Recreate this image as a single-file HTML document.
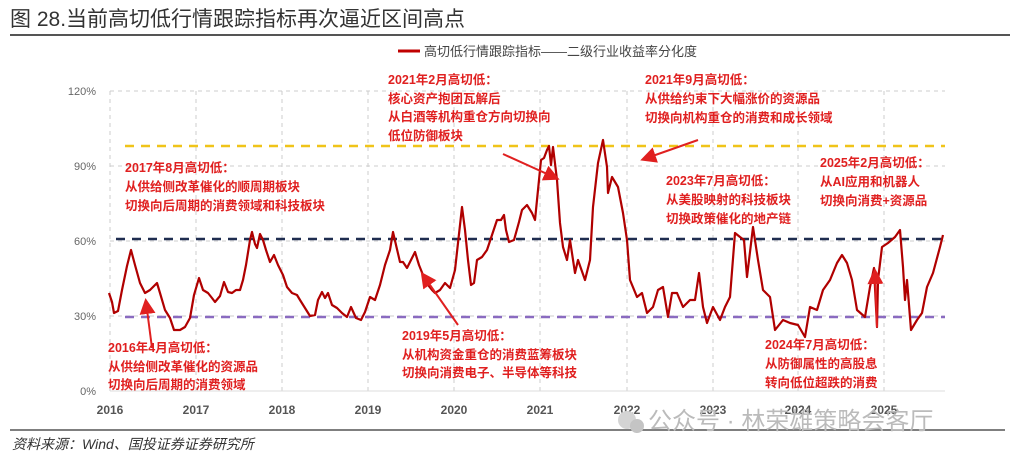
<!DOCTYPE html>
<html><head><meta charset="utf-8"><style>
body{margin:0;background:#fff;width:1024px;height:464px;overflow:hidden;font-family:"Liberation Sans","Noto Sans CJK SC",sans-serif}
</style></head><body>
<svg width="1024" height="464" viewBox="0 0 1024 464" xmlns="http://www.w3.org/2000/svg" font-family="Liberation Sans, Noto Sans CJK SC, sans-serif">
<defs><marker id="ah" markerWidth="8" markerHeight="8" refX="6" refY="4" orient="auto"><path d="M0,0 L8,4 L0,8 z" fill="#e02020"/></marker></defs>
<text x="10" y="26" font-size="21" fill="#333">图 28.当前高切低行情跟踪指标再次逼近区间高点</text>
<line x1="10" y1="35" x2="1010" y2="35" stroke="#555" stroke-width="2"/>
<line x1="398" y1="51" x2="420" y2="51" stroke="#c00000" stroke-width="3"/>
<text x="424" y="56" font-size="13" fill="#444">高切低行情跟踪指标——二级行业收益率分化度</text>
<g stroke="#ccc" stroke-dasharray="4,4" stroke-width="1">
<line x1="110" y1="91" x2="945" y2="91"/><line x1="110" y1="166" x2="945" y2="166"/><line x1="110" y1="241" x2="945" y2="241"/><line x1="110" y1="316" x2="945" y2="316"/>
<line x1="110" y1="91" x2="110" y2="391"/><line x1="196" y1="91" x2="196" y2="391"/><line x1="282" y1="91" x2="282" y2="391"/><line x1="368" y1="91" x2="368" y2="391"/><line x1="454" y1="91" x2="454" y2="391"/><line x1="540" y1="91" x2="540" y2="391"/><line x1="627" y1="91" x2="627" y2="391"/><line x1="713" y1="91" x2="713" y2="391"/><line x1="798" y1="91" x2="798" y2="391"/><line x1="884" y1="91" x2="884" y2="391"/>
</g>
<line x1="110" y1="391" x2="945" y2="391" stroke="#ddd"/>
<g font-size="11" fill="#666" text-anchor="end">
<text x="96" y="95">120%</text><text x="96" y="170">90%</text><text x="96" y="245">60%</text><text x="96" y="320">30%</text><text x="96" y="395">0%</text></g>
<g font-size="12" fill="#555" font-weight="bold" text-anchor="middle">
<text x="110" y="414">2016</text><text x="196" y="414">2017</text><text x="282" y="414">2018</text><text x="368" y="414">2019</text><text x="454" y="414">2020</text><text x="540" y="414">2021</text><text x="627" y="414">2022</text><text x="713" y="414">2023</text><text x="798" y="414">2024</text><text x="884" y="414">2025</text></g>
<line x1="125" y1="146" x2="945" y2="146" stroke="#f0c419" stroke-width="2.5" stroke-dasharray="9,7"/>
<line x1="116" y1="239" x2="945" y2="239" stroke="#1f2d50" stroke-width="2.5" stroke-dasharray="9,7"/>
<line x1="125" y1="317" x2="945" y2="317" stroke="#8a6bc0" stroke-width="2.5" stroke-dasharray="9,7"/>
<polyline fill="none" stroke="#b00000" stroke-width="2.2" stroke-linejoin="round" points="109,293 112,302 114,313 118,311 122,290 127,266 131,250 135,265 140,283 145,293 150,290 155,285 157,283 160,293 165,310 170,318 174,330 180,330 185,327 190,318 194,295 199,278 203,290 208,293 212,298 215,302 220,296 224,282 228,292 232,293 236,290 240,290 243,280 246,265 250,240 252,232 255,244 257,248 260,234 263,240 266,250 270,262 274,255 278,265 283,275 287,287 292,293 297,295 300,300 305,308 310,316 315,315 318,300 322,292 325,298 328,293 332,305 337,308 342,313 347,317 351,307 356,318 361,320 365,312 370,297 375,300 380,285 385,265 390,250 393,232 396,245 400,262 403,262 407,268 412,258 415,252 419,265 423,275 428,285 432,290 435,293 440,290 445,283 450,288 455,270 460,225 462,207 465,230 468,260 471,285 474,283 477,260 482,257 487,250 492,235 497,220 501,220 504,215 506,230 509,242 514,240 519,222 522,210 527,205 532,213 535,220 538,190 541,160 544,158 547,150 549,146 551,165 553,147 557,180 560,223 563,247 567,260 570,240 575,273 578,260 585,280 590,260 593,207 598,163 603,140 607,167 608,193 612,177 618,187 623,213 627,240 630,280 637,297 642,293 647,313 653,307 658,290 663,287 668,317 672,293 677,293 683,307 690,300 695,300 699,273 703,307 707,323 713,307 720,320 725,307 730,297 735,233 740,237 744,240 747,277 753,227 758,260 763,290 770,297 775,330 783,320 790,323 798,325 805,337 810,307 817,310 823,290 830,280 837,263 842,255 847,263 852,280 857,310 865,317 870,287 874,268 877,327 878,280 882,247 888,243 895,237 900,230 903,267 905,300 907,280 911,330 917,320 922,313 927,287 933,273 940,247 943,235"/>
<g stroke="#e02020" stroke-width="2" marker-end="url(#ah)">
<line x1="152" y1="348" x2="146" y2="302"/>
<line x1="458" y1="325" x2="423" y2="275"/>
<line x1="503" y1="154" x2="556" y2="178"/>
<line x1="698" y1="140" x2="644" y2="159"/>
<line x1="877" y1="327" x2="875" y2="272"/>
</g>
<g font-size="12.5" fill="#e02020" font-weight="bold">
<text x="388" y="84">2021年2月高切低：</text><text x="388" y="103">核心资产抱团瓦解后</text><text x="388" y="121">从白酒等机构重仓方向切换向</text><text x="388" y="140">低位防御板块</text>
<text x="645" y="84">2021年9月高切低：</text><text x="645" y="103">从供给约束下大幅涨价的资源品</text><text x="645" y="122">切换向机构重仓的消费和成长领域</text>
<text x="125" y="172">2017年8月高切低：</text><text x="125" y="191">从供给侧改革催化的顺周期板块</text><text x="125" y="210">切换向后周期的消费领域和科技板块</text>
<text x="108" y="352">2016年4月高切低：</text><text x="108" y="371">从供给侧改革催化的资源品</text><text x="108" y="389">切换向后周期的消费领域</text>
<text x="402" y="340">2019年5月高切低：</text><text x="402" y="359">从机构资金重仓的消费蓝筹板块</text><text x="402" y="377">切换向消费电子、半导体等科技</text>
<text x="666" y="185">2023年7月高切低：</text><text x="666" y="204">从美股映射的科技板块</text><text x="666" y="223">切换政策催化的地产链</text>
<text x="820" y="167">2025年2月高切低：</text><text x="820" y="186">从AI应用和机器人</text><text x="820" y="205">切换向消费+资源品</text>
<text x="765" y="349">2024年7月高切低：</text><text x="765" y="368">从防御属性的高股息</text><text x="765" y="387">转向低位超跌的消费</text>
</g>
<line x1="10" y1="430" x2="1005" y2="430" stroke="#555" stroke-width="1.5"/>
<circle cx="627" cy="420" r="9" fill="#d4d4d4"/><circle cx="637" cy="426" r="7" fill="#c4c4c4"/>
<text x="648" y="429" font-size="24" fill="#bbb">公众号 · 林荣雄策略会客厅</text>
<text x="12" y="449" font-size="14" fill="#333" font-style="italic">资料来源：Wind、国投证券证券研究所</text>
</svg>
</body></html>
